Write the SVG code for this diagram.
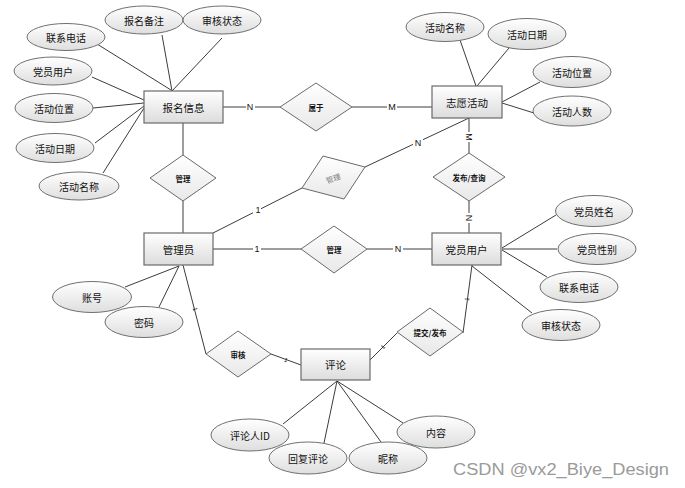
<svg xmlns="http://www.w3.org/2000/svg" width="685" height="488" viewBox="0 0 685 488">
<defs>
<linearGradient id="gEnt" x1="0" y1="0" x2="0" y2="1">
<stop offset="0" stop-color="#ffffff"/><stop offset="1" stop-color="#dcdcdc"/>
</linearGradient>
<linearGradient id="gAttr" x1="0" y1="0" x2="0" y2="1">
<stop offset="0" stop-color="#ffffff"/><stop offset="1" stop-color="#dedede"/>
</linearGradient>
<linearGradient id="gRel" x1="0" y1="0" x2="0" y2="1">
<stop offset="0" stop-color="#ffffff"/><stop offset="1" stop-color="#e8e8e8"/>
</linearGradient>
<style>
.ent{fill:url(#gEnt);stroke:#6a6a6a;stroke-width:1.2}
.attr{fill:url(#gAttr);stroke:#707070;stroke-width:1}
.rel{fill:url(#gRel);stroke:#6a6a6a;stroke-width:1}
.ln{stroke:#3c3c3c;stroke-width:1;fill:none}
text{font-family:"Noto Sans CJK SC","Liberation Sans",sans-serif;fill:#111;text-anchor:middle;dominant-baseline:central}
.te{font-size:10.5px}
.ta{font-size:10px}
.tr{font-size:7.5px;font-weight:bold}
.card{font-family:"Liberation Sans",sans-serif;font-size:9px}
.tiny{font-family:"Liberation Sans",sans-serif;font-size:6px}
</style>
</defs>
<rect width="685" height="488" fill="#ffffff"/>

<g id="connectors">
<!-- 报名信息 attributes -->
<line class="ln" x1="97" y1="44" x2="171" y2="90"/>
<line class="ln" x1="162" y1="35" x2="172" y2="91"/>
<line class="ln" x1="222" y1="38" x2="172" y2="91"/>
<line class="ln" x1="92" y1="77" x2="144" y2="100"/>
<line class="ln" x1="93" y1="108" x2="144" y2="103"/>
<line class="ln" x1="95" y1="143" x2="144" y2="106"/>
<line class="ln" x1="103" y1="173" x2="144" y2="108"/>
<!-- 志愿活动 attributes -->
<line class="ln" x1="460" y1="40" x2="476" y2="86"/>
<line class="ln" x1="509" y1="48" x2="477" y2="86"/>
<line class="ln" x1="540" y1="82" x2="502" y2="102"/>
<line class="ln" x1="534" y1="113" x2="502" y2="103"/>
<!-- 党员用户 attributes -->
<line class="ln" x1="556" y1="215" x2="502" y2="248"/>
<line class="ln" x1="557" y1="249" x2="502" y2="249"/>
<line class="ln" x1="547" y1="277" x2="502" y2="250"/>
<line class="ln" x1="532" y1="313" x2="472" y2="266"/>
<!-- 管理员 attributes -->
<line class="ln" x1="125" y1="287" x2="179" y2="266"/>
<line class="ln" x1="159" y1="307" x2="179" y2="266"/>
<!-- 评论 attributes -->
<line class="ln" x1="283" y1="424" x2="337" y2="381"/>
<line class="ln" x1="324" y1="443" x2="337" y2="381"/>
<line class="ln" x1="381" y1="442" x2="337" y2="381"/>
<line class="ln" x1="403" y1="423" x2="337" y2="381"/>
<!-- relationships -->
<line class="ln" x1="223" y1="107" x2="280" y2="107"/>
<line class="ln" x1="352" y1="107" x2="432" y2="107"/>
<line class="ln" x1="183" y1="123" x2="183" y2="155"/>
<line class="ln" x1="183" y1="201" x2="183" y2="233"/>
<line class="ln" x1="213" y1="233" x2="302" y2="188"/>
<line class="ln" x1="365" y1="167" x2="469" y2="118"/>
<line class="ln" x1="213" y1="249" x2="301" y2="249"/>
<line class="ln" x1="367" y1="249" x2="432" y2="249"/>
<line class="ln" x1="469" y1="118" x2="469" y2="153"/>
<line class="ln" x1="469" y1="201" x2="469" y2="233"/>
<line class="ln" x1="183" y1="265" x2="206" y2="354"/>
<line class="ln" x1="271" y1="354" x2="301" y2="365"/>
<line class="ln" x1="370" y1="360" x2="397" y2="333"/>
<line class="ln" x1="463" y1="333" x2="472" y2="265"/>
<!-- cardinality labels -->
<rect x="246" y="101" width="9" height="11" fill="#fff"/>
<text class="card" x="250" y="107">N</text>
<rect x="387" y="101" width="10" height="11" fill="#fff"/>
<text class="card" x="392" y="107">M</text>
<rect x="253" y="204" width="8" height="11" fill="#fff"/>
<text class="card" x="258" y="210">1</text>
<rect x="413" y="138" width="10" height="11" fill="#fff"/>
<text class="card" x="418" y="143">N</text>
<rect x="253" y="243" width="8" height="11" fill="#fff"/>
<text class="card" x="257" y="249">1</text>
<rect x="393" y="243" width="10" height="11" fill="#fff"/>
<text class="card" x="398" y="249">N</text>
<rect x="463" y="132" width="11" height="10" fill="#fff"/>
<text class="card" x="469" y="137" transform="rotate(90 469 137)">M</text>
<rect x="464" y="213" width="11" height="10" fill="#fff"/>
<text class="card" x="469" y="218" transform="rotate(90 469 218)">N</text>
<text class="tiny" x="195" y="309" transform="rotate(75 195 309)">1</text>
<text class="tiny" x="286" y="360" transform="rotate(20 286 360)">1</text>
<text class="tiny" x="383" y="347" transform="rotate(-45 383 347)">1</text>
<text class="tiny" x="467" y="299" transform="rotate(-82 467 299)">1</text>
</g>

<!-- entities -->
<g id="baoming-info"><rect class="ent" x="144" y="91" width="79" height="32"/><text class="te" x="183.5" y="107">报名信息</text></g>
<g id="volunteer-activity"><rect class="ent" x="432" y="86" width="70" height="32"/><text class="te" x="467" y="102">志愿活动</text></g>
<g id="admin"><rect class="ent" x="144" y="233" width="69" height="32"/><text class="te" x="178.5" y="249">管理员</text></g>
<g id="party-user"><rect class="ent" x="432" y="233" width="69" height="32"/><text class="te" x="466.5" y="249">党员用户</text></g>
<g id="comment"><rect class="ent" x="301" y="349" width="69" height="31"/><text class="te" x="335.5" y="364.5">评论</text></g>

<!-- relationships -->
<g id="rel-belong"><polygon class="rel" points="280,107 316,83 352,107 316,131"/><text class="tr" x="316" y="107">属于</text></g>
<g id="rel-manage-1"><polygon class="rel" points="150,178 183,155 216,178 183,201"/><text class="tr" x="183" y="178">管理</text></g>
<g id="rel-manage-2"><polygon class="rel" points="302,188 323,156 365,167 344,199"/><text x="333" y="178" font-size="7.5px" fill="#777" style="fill:#777" transform="rotate(-20 333 178)">管理</text></g>
<g id="rel-manage-3"><polygon class="rel" points="301,249 334,226 367,249 334,273"/><text class="tr" x="334" y="249">管理</text></g>
<g id="rel-publish-query"><polygon class="rel" points="433,177 469,153 505,177 469,201"/><text class="tr" x="469" y="177">发布/查询</text></g>
<g id="rel-submit-publish"><polygon class="rel" points="397,332 430,308 463,332 430,356"/><text class="tr" x="430" y="332">提交/发布</text></g>
<g id="rel-review"><polygon class="rel" points="206,354 238,331 271,354 238,377"/><text class="tr" x="238" y="354">审核</text></g>

<!-- attributes of 报名信息 -->
<g id="a-bm-phone"><ellipse class="attr" cx="66" cy="37" rx="39" ry="13.5"/><text class="ta" x="66" y="37">联系电话</text></g>
<g id="a-bm-note"><ellipse class="attr" cx="144" cy="20" rx="39" ry="14"/><text class="ta" x="144" y="20">报名备注</text></g>
<g id="a-bm-status"><ellipse class="attr" cx="222" cy="20" rx="39" ry="14"/><text class="ta" x="222" y="20">审核状态</text></g>
<g id="a-bm-user"><ellipse class="attr" cx="53" cy="71" rx="39" ry="14"/><text class="ta" x="53" y="71">党员用户</text></g>
<g id="a-bm-loc"><ellipse class="attr" cx="54" cy="108" rx="39" ry="14.5"/><text class="ta" x="54" y="108">活动位置</text></g>
<g id="a-bm-date"><ellipse class="attr" cx="55" cy="148" rx="39" ry="14.5"/><text class="ta" x="55" y="148">活动日期</text></g>
<g id="a-bm-name"><ellipse class="attr" cx="79" cy="186" rx="40" ry="14"/><text class="ta" x="79" y="186">活动名称</text></g>

<!-- attributes of 志愿活动 -->
<g id="a-va-name"><ellipse class="attr" cx="445" cy="27" rx="39" ry="14.5"/><text class="ta" x="445" y="27">活动名称</text></g>
<g id="a-va-date"><ellipse class="attr" cx="527" cy="34" rx="39" ry="15.5"/><text class="ta" x="527" y="34">活动日期</text></g>
<g id="a-va-loc"><ellipse class="attr" cx="572" cy="72" rx="39" ry="15.5"/><text class="ta" x="572" y="72">活动位置</text></g>
<g id="a-va-count"><ellipse class="attr" cx="572" cy="111" rx="39" ry="15"/><text class="ta" x="572" y="111">活动人数</text></g>

<!-- attributes of 党员用户 -->
<g id="a-pu-name"><ellipse class="attr" cx="594" cy="211" rx="38.5" ry="15.5"/><text class="ta" x="594" y="211">党员姓名</text></g>
<g id="a-pu-gender"><ellipse class="attr" cx="597" cy="249" rx="39" ry="15.5"/><text class="ta" x="597" y="249">党员性别</text></g>
<g id="a-pu-phone"><ellipse class="attr" cx="579" cy="287" rx="39" ry="15.5"/><text class="ta" x="579" y="287">联系电话</text></g>
<g id="a-pu-status"><ellipse class="attr" cx="561" cy="325" rx="39" ry="15.5"/><text class="ta" x="561" y="325">审核状态</text></g>

<!-- attributes of 管理员 -->
<g id="a-ad-account"><ellipse class="attr" cx="92" cy="297" rx="39.5" ry="15.5"/><text class="ta" x="92" y="297">账号</text></g>
<g id="a-ad-pwd"><ellipse class="attr" cx="144" cy="322" rx="39" ry="15.5"/><text class="ta" x="144" y="322">密码</text></g>

<!-- attributes of 评论 -->
<g id="a-cm-uid"><ellipse class="attr" cx="250" cy="435" rx="39" ry="16"/><text class="ta" x="250" y="435">评论人ID</text></g>
<g id="a-cm-reply"><ellipse class="attr" cx="308" cy="458" rx="39" ry="16"/><text class="ta" x="308" y="458">回复评论</text></g>
<g id="a-cm-nick"><ellipse class="attr" cx="388" cy="458" rx="39" ry="16"/><text class="ta" x="388" y="458">昵称</text></g>
<g id="a-cm-content"><ellipse class="attr" cx="436" cy="432" rx="39" ry="16"/><text class="ta" x="436" y="432">内容</text></g>

<text x="453" y="469" style="text-anchor:start;fill:#9a9a9a;font-family:'Liberation Sans',sans-serif;font-size:16px" textLength="216" lengthAdjust="spacingAndGlyphs">CSDN @vx2_Biye_Design</text>
</svg>
